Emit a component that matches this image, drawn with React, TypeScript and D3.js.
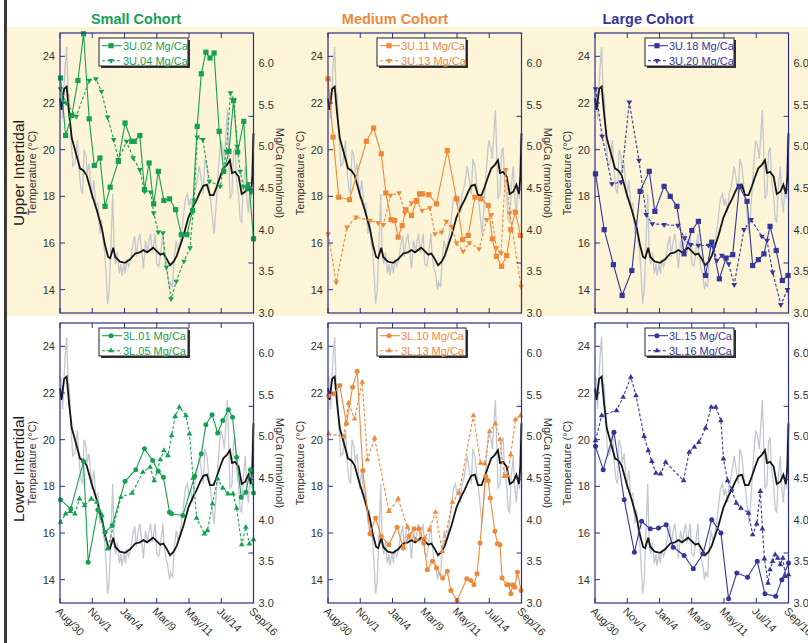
import React from 'react';
import * as d3 from 'd3';

const FONT = '"Liberation Sans", Arial, Helvetica, sans-serif';
const GREEN = '#16a052';
const ORANGE = '#f0883a';
const BLUE = '#35359b';
const FRAME = '#2d2d8a';
const BEIGE = '#fdf5d7';

const cohortTitles = ['Small Cohort', 'Medium Cohort', 'Large Cohort'];
const cohortColors = [GREEN, ORANGE, BLUE];
const rowTitles = ['Upper Intertidal', 'Lower Intertidal'];

// days since Aug/30
const dateTicks = [0, 63, 126, 189, 252, 315, 378];
const dateLabels = ['Aug/30', 'Nov/1', 'Jan/4', 'Mar/9', 'May/11', 'Jul/14', 'Sep/16'];
const tempTicks = [14, 16, 18, 20, 22, 24];
const mgTicks = [3.0, 3.5, 4.0, 4.5, 5.0, 5.5, 6.0];
const mgMinor = [3.6, 4.48, 5.36];

// raw logger temperature (grey)
const rawDays = [0, 2, 5, 10, 13, 16, 18, 21, 25, 29, 34, 38, 41, 44, 47, 51, 53, 57, 62, 66, 70, 74, 78, 81, 85, 87, 90, 93, 96, 99, 103, 106, 109, 112, 116, 119, 121, 125, 128, 130, 134, 138, 142, 146, 149, 152, 156, 160, 163, 167, 171, 174, 177, 180, 184, 186, 189, 193, 197, 201, 203, 207, 210, 214, 216, 220, 223, 227, 231, 235, 239, 242, 245, 249, 252, 255, 259, 262, 266, 270, 272, 276, 280, 283, 287, 291, 295, 298, 301, 305, 308, 312, 314, 318, 321, 325, 327, 330, 332, 336, 339, 342, 345, 349, 352, 355, 358, 362, 365, 368, 371, 374, 376, 378];
const rawTemp = [22.5, 22.7, 21.3, 23.6, 24.4, 22.3, 22.4, 20.7, 19.3, 19.4, 20.4, 18.9, 18.3, 18.1, 20.0, 19.7, 19.0, 19.4, 17.9, 18.7, 17.6, 17.7, 16.4, 17.0, 15.9, 15.7, 14.7, 13.4, 13.9, 15.6, 18.1, 15.4, 15.1, 15.6, 14.7, 15.1, 14.6, 15.1, 14.7, 15.3, 15.0, 15.3, 15.9, 16.3, 15.4, 16.0, 16.4, 15.6, 14.9, 16.1, 15.6, 16.1, 16.4, 15.6, 16.1, 16.4, 15.1, 15.0, 15.6, 16.4, 15.6, 14.9, 14.7, 14.0, 14.3, 14.1, 15.3, 16.1, 15.6, 16.1, 16.7, 17.3, 17.9, 18.1, 17.6, 17.9, 17.3, 18.1, 18.4, 19.0, 19.3, 18.7, 18.1, 19.6, 19.3, 18.4, 17.7, 17.0, 16.4, 17.6, 18.7, 19.9, 20.4, 20.1, 19.6, 21.0, 21.7, 19.6, 17.9, 18.1, 19.9, 20.1, 18.7, 18.0, 17.0, 16.9, 18.4, 19.3, 17.9, 17.3, 18.4, 17.9, 20.4, 20.7];

// smoothed temperature (black)
const smoothDays = [0, 3, 8, 13, 18, 23, 33, 39, 46, 52, 62, 72, 82, 88, 94, 98, 104, 108, 117, 127, 137, 147, 156, 163, 170, 182, 189, 196, 202, 209, 215, 222, 228, 235, 241, 251, 261, 267, 274, 280, 287, 293, 300, 306, 313, 319, 326, 332, 336, 342, 349, 355, 362, 368, 373, 376, 378];
const smoothTemp = [22.2, 21.7, 22.6, 22.7, 21.5, 20.5, 19.7, 19.2, 19.1, 18.9, 18.1, 17.4, 16.6, 15.9, 15.4, 15.35, 15.8, 15.4, 15.2, 15.15, 15.3, 15.55, 15.6, 15.7, 15.6, 15.8, 15.65, 15.5, 15.55, 15.3, 15.05, 15.2, 15.45, 15.9, 16.3, 17.1, 17.6, 17.85, 18.2, 18.45, 18.5, 18.05, 18.05, 18.4, 18.85, 19.2, 19.35, 19.55, 19.0, 19.05, 18.85, 18.1, 18.2, 18.5, 18.1, 18.9, 20.7];

// Mg/Ca series: [day, mmol/mol]
const mg3U02 = [[1, 5.82], [11, 5.13], [23, 5.37], [35, 5.79], [46, 6.35], [57, 5.33], [67, 4.77], [78, 4.86], [88, 4.28], [98, 4.51], [114, 4.82], [127, 5.28], [140, 5.06], [145, 5.06], [156, 5.13], [165, 4.48], [174, 4.8], [183, 4.31], [192, 4.7], [203, 4.35], [214, 4.37], [226, 4.24], [237, 3.94], [248, 3.94], [259, 4.23], [268, 5.24], [276, 5.87], [285, 6.13], [293, 6.06], [301, 6.12], [311, 5.18], [320, 4.7], [330, 4.94], [339, 5.55], [347, 4.93], [359, 5.3], [366, 4.5], [370, 4.49], [378, 3.89]];
const mg3U04 = [[1, 5.69], [12, 5.52], [32, 5.36], [57, 5.79], [70, 5.81], [81, 5.66], [93, 5.35], [105, 5.08], [114, 4.84], [130, 5.06], [143, 4.86], [156, 4.72], [165, 4.46], [177, 4.45], [183, 4.2], [192, 3.97], [201, 3.96], [208, 3.55], [217, 3.17], [227, 3.38], [242, 3.62], [254, 3.78], [262, 4.35], [268, 5.11], [279, 5.08], [292, 4.58], [313, 4.52], [325, 4.94], [333, 5.64], [340, 5.55], [346, 5.0], [352, 4.7], [358, 4.52], [368, 4.55], [374, 4.45]];
const mg3U11 = [[0, 5.81], [10, 5.11], [21, 4.39], [42, 4.36], [75, 5.06], [89, 5.22], [104, 4.91], [113, 4.44], [123, 4.12], [130, 4.11], [137, 3.91], [145, 4.05], [152, 4.24], [163, 4.17], [173, 4.34], [179, 4.43], [184, 4.43], [197, 4.42], [212, 4.31], [233, 4.95], [251, 4.37], [263, 3.88], [274, 3.93], [287, 4.39], [299, 4.37], [313, 4.29], [321, 3.89], [329, 3.68], [339, 3.56], [349, 3.69], [357, 4.0], [366, 4.21], [376, 3.93]];
const mg3U13 = [[0, 3.95], [16, 3.37], [37, 4.03], [55, 4.15], [82, 4.11], [98, 4.08], [108, 4.06], [122, 4.41], [139, 4.44], [150, 4.2], [163, 4.32], [172, 4.36], [184, 4.23], [199, 4.26], [209, 3.95], [222, 3.97], [231, 4.1], [241, 4.04], [251, 3.84], [264, 3.74], [276, 3.84], [295, 3.77], [310, 4.12], [319, 4.18], [329, 3.78], [338, 3.72], [347, 4.72], [355, 4.2], [377, 3.32]];
const mg3U18 = [[1, 4.67], [18, 4.0], [36, 3.58], [53, 3.21], [72, 3.51], [88, 4.46], [106, 4.7], [117, 4.22], [135, 4.52], [147, 4.4], [160, 4.28], [174, 3.71], [189, 3.99], [202, 4.1], [216, 3.45], [228, 3.85], [243, 3.41], [256, 3.66], [269, 3.7], [282, 4.52], [297, 4.34], [308, 3.57], [319, 3.64], [330, 3.71], [342, 4.04], [354, 3.75], [366, 3.39], [377, 3.45]];
const mg3U20 = [[1, 5.69], [14, 5.12], [33, 4.55], [51, 4.57], [67, 5.53], [86, 4.83], [100, 4.18], [112, 4.07], [135, 4.06], [162, 4.05], [175, 3.9], [187, 3.82], [202, 3.81], [222, 3.81], [232, 3.79], [238, 3.63], [248, 3.69], [261, 3.59], [272, 3.34], [291, 4.0], [305, 4.12], [326, 3.92], [336, 3.87], [347, 3.49], [363, 3.1], [376, 3.28]];
const mg3L01 = [[1, 4.24], [21, 4.13], [46, 4.7], [55, 3.49], [74, 4.12], [88, 3.85], [102, 3.93], [127, 4.46], [148, 4.6], [165, 4.85], [181, 4.71], [192, 4.58], [202, 4.51], [214, 4.09], [218, 4.07], [240, 4.05], [263, 4.52], [276, 4.79], [285, 5.14], [297, 5.26], [308, 5.04], [318, 5.19], [329, 5.32], [337, 5.23], [345, 4.75], [354, 4.27], [363, 4.33], [372, 4.6], [378, 4.32]];
const mg3L05 = [[1, 3.97], [11, 4.07], [20, 4.1], [29, 4.07], [38, 4.25], [48, 4.17], [61, 4.25], [72, 4.21], [82, 4.05], [93, 3.65], [119, 4.27], [141, 4.32], [162, 4.57], [176, 4.63], [184, 4.47], [196, 4.72], [203, 4.83], [211, 4.77], [218, 5.01], [225, 5.24], [233, 5.35], [246, 5.25], [253, 5.03], [260, 4.5], [267, 4.02], [282, 3.83], [288, 3.87], [298, 4.19], [308, 4.49], [318, 4.38], [328, 4.31], [338, 4.31], [345, 4.14], [355, 3.7], [363, 3.91], [370, 3.71], [378, 3.76]];
const mg3L10 = [[1, 5.49], [11, 5.51], [23, 5.61], [36, 5.15], [48, 5.59], [57, 5.78], [68, 4.59], [82, 3.83], [93, 4.02], [104, 3.8], [119, 3.7], [135, 3.91], [147, 3.66], [158, 3.8], [168, 3.89], [178, 3.89], [187, 3.72], [194, 3.4], [204, 3.5], [212, 3.42], [224, 3.3], [233, 3.38], [240, 3.15], [252, 3.03], [271, 3.29], [279, 3.27], [285, 3.22], [291, 3.35], [297, 3.72], [308, 4.52], [313, 4.47], [317, 4.26], [326, 3.86], [331, 3.71], [336, 3.7], [340, 3.3], [349, 3.22], [353, 3.22], [357, 3.11], [361, 3.22], [365, 3.19], [370, 3.37], [377, 3.15]];
const mg3L13 = [[1, 5.03], [31, 5.0], [40, 5.4], [52, 5.21], [67, 5.65], [77, 4.72], [91, 4.98], [119, 4.1], [137, 4.25], [155, 3.91], [171, 3.76], [189, 3.78], [198, 3.88], [210, 4.09], [223, 3.62], [243, 4.21], [256, 4.32], [284, 5.25], [298, 4.68], [306, 4.67], [316, 5.06], [327, 5.15], [336, 4.96], [344, 4.52], [350, 4.53], [357, 4.78], [366, 5.2], [376, 5.25]];
const mg3L15 = [[1, 4.88], [16, 4.6], [37, 5.05], [57, 4.24], [77, 3.61], [91, 3.98], [108, 3.89], [124, 3.9], [139, 3.94], [153, 3.67], [174, 3.57], [192, 3.41], [211, 3.59], [228, 4.0], [246, 3.84], [261, 3.05], [277, 3.36], [298, 3.31], [317, 3.5], [332, 3.11], [353, 3.08], [365, 3.28], [378, 3.48]];
const mg3L16 = [[1, 4.95], [13, 5.25], [42, 5.31], [55, 5.47], [70, 5.71], [80, 5.49], [96, 5.0], [104, 4.83], [111, 4.7], [119, 4.56], [128, 4.55], [138, 4.69], [173, 4.47], [184, 4.81], [194, 4.87], [203, 4.93], [216, 5.1], [227, 5.35], [236, 5.35], [246, 5.19], [251, 4.73], [259, 4.47], [267, 4.36], [276, 4.2], [285, 4.14], [300, 4.08], [308, 3.82], [316, 3.95], [323, 4.34], [327, 3.89], [331, 3.53], [338, 3.24], [342, 3.4], [347, 3.5], [352, 3.58], [357, 3.54], [362, 3.46], [367, 3.54], [372, 3.32], [378, 3.34]];

const panels = [
  { row: 0, col: 0, solid: ['3U.02 Mg/Ca', mg3U02, 'square'], dashed: ['3U.04 Mg/Ca', mg3U04, 'down'] },
  { row: 0, col: 1, solid: ['3U.11 Mg/Ca', mg3U11, 'square'], dashed: ['3U.13 Mg/Ca', mg3U13, 'down'] },
  { row: 0, col: 2, solid: ['3U.18 Mg/Ca', mg3U18, 'square'], dashed: ['3U.20 Mg/Ca', mg3U20, 'down'] },
  { row: 1, col: 0, solid: ['3L.01 Mg/Ca', mg3L01, 'circle'], dashed: ['3L.05 Mg/Ca', mg3L05, 'up'] },
  { row: 1, col: 1, solid: ['3L.10 Mg/Ca', mg3L10, 'circle'], dashed: ['3L.13 Mg/Ca', mg3L13, 'up'] },
  { row: 1, col: 2, solid: ['3L.15 Mg/Ca', mg3L15, 'circle'], dashed: ['3L.16 Mg/Ca', mg3L16, 'up'] },
];

// layout
const panelX = [60, 328, 595];
const rowY = [33, 323];
const PW = 193.5;
const PH = 280;
const legendDx = [39, 49, 50];
const titleX = [136, 395, 648];

const triPath = d3.symbol(d3.symbolTriangle, 14)() || '';

function Marker({ kind, x, y, color }: { kind: string; x: number; y: number; color: string }) {
  if (kind === 'square') return <rect x={x - 2.6} y={y - 2.6} width={5.2} height={5.2} fill={color} />;
  if (kind === 'circle') return <circle cx={x} cy={y} r={2.5} fill={color} />;
  return <path d={triPath} fill={color} transform={`translate(${x},${y}) rotate(${kind === 'down' ? 180 : 0})`} />;
}

function Panel({ p }: { p: any }) {
  const left = panelX[p.col];
  const top = rowY[p.row];
  const color = cohortColors[p.col];
  const x = d3.scaleLinear().domain([0, 378]).range([left, left + PW]);
  const yT = d3.scaleLinear().domain([13, 25]).range([top + PH, top]);
  const yM = d3.scaleLinear().domain([3, 6.36]).range([top + PH, top]);

  const tLine = d3.line<[number, number]>().x(d => x(d[0])).y(d => yT(d[1]));
  const mLine = d3.line<number[]>().x(d => x(d[0])).y(d => yM(d[1]));
  const raw = rawDays.map((d, i) => [d, rawTemp[i]] as [number, number]);
  const smooth = smoothDays.map((d, i) => [d, smoothTemp[i]] as [number, number]);

  const lx = left + legendDx[p.col];
  const ly = top + 5;
  const series = [
    { s: p.solid, dash: undefined },
    { s: p.dashed, dash: '3,2' },
  ];

  return (
    <g>
      <path d={tLine(raw) || ''} fill="none" stroke="#c3c7cf" strokeWidth={1.3} />
      <path d={tLine(smooth) || ''} fill="none" stroke="#151515" strokeWidth={1.8} />
      {series.map(({ s, dash }, k) => (
        <g key={k}>
          <path d={mLine(s[1]) || ''} fill="none" stroke={color} strokeWidth={1.1} strokeDasharray={dash} />
          {s[1].map((d: number[], i: number) => (
            <Marker key={i} kind={s[2]} x={x(d[0])} y={yM(d[1])} color={color} />
          ))}
        </g>
      ))}

      {/* frame and ticks */}
      <rect x={left} y={top} width={PW} height={PH} fill="none" stroke={FRAME} strokeWidth={1.2} />
      {dateTicks.map(d => (
        <g key={d}>
          <line x1={x(d)} x2={x(d)} y1={top} y2={top + 5} stroke={FRAME} strokeWidth={1} />
          <line x1={x(d)} x2={x(d)} y1={top + PH} y2={top + PH - 5} stroke={FRAME} strokeWidth={1} />
        </g>
      ))}
      {tempTicks.map(t => (
        <g key={t}>
          <line x1={left} x2={left + 5} y1={yT(t)} y2={yT(t)} stroke={FRAME} strokeWidth={1} />
          <text x={left - 5} y={yT(t)} textAnchor="end" dominantBaseline="central" fontSize={11} fill="#333">{t}</text>
        </g>
      ))}
      {mgMinor.map(v => (
        <line key={v} x1={left + PW} x2={left + PW - 5} y1={yM(v)} y2={yM(v)} stroke={FRAME} strokeWidth={1} />
      ))}
      {mgTicks.map(v => (
        <text key={v} x={left + PW + 5} y={yM(v)} dominantBaseline="central" fontSize={11} fill="#333">{v.toFixed(1)}</text>
      ))}

      {/* axis titles */}
      <text transform={`translate(${left - 28},${top + PH / 2}) rotate(-90)`} textAnchor="middle" dominantBaseline="central" fontSize={11} fill="#333">Temperature (°C)</text>
      {p.col < 2 && (
        <text transform={`translate(${left + PW + 26},${top + PH / 2}) rotate(90)`} textAnchor="middle" dominantBaseline="central" fontSize={11} fill="#333">Mg/Ca (mmol/mol)</text>
      )}

      {/* date labels */}
      {p.row === 1 && dateTicks.map((d, i) => (
        <text key={d} transform={`translate(${x(d) - 5},${top + PH + 9}) rotate(45)`} fontSize={11} fill="#333">{dateLabels[i]}</text>
      ))}

      {/* legend */}
      <rect x={lx + 2} y={ly + 2} width={89} height={28} fill="#333" />
      <rect x={lx} y={ly} width={89} height={28} fill="#fff" stroke="#222" strokeWidth={1} />
      {series.map(({ s, dash }, k) => {
        const yy = ly + 7.7 + k * 15;
        return (
          <g key={k}>
            <line x1={lx + 3} x2={lx + 23} y1={yy} y2={yy} stroke={color} strokeWidth={1.1} strokeDasharray={dash} />
            <Marker kind={s[2]} x={lx + 12} y={yy} color={color} />
            <text x={lx + 24} y={yy} dominantBaseline="central" fontSize={11} fill={color}>{s[0]}</text>
          </g>
        );
      })}
    </g>
  );
}

export default function App() {
  return (
    <svg width={808} height={643} style={{ position: 'absolute', left: 0, top: 0, background: '#fff' }} fontFamily={FONT}>
      <rect x={0} y={0} width={808} height={643} fill="#fff" />
      <rect x={7} y={27} width={801} height={289} fill={BEIGE} />
      <rect x={4} y={0} width={3} height={643} fill="#3a3a3a" />
      {cohortTitles.map((t, i) => (
        <text key={t} x={titleX[i]} y={24} textAnchor="middle" fontSize={14.5} fontWeight="bold" fill={cohortColors[i]}>{t}</text>
      ))}
      {rowTitles.map((t, i) => (
        <text key={t} transform={`translate(18,${rowY[i] + PH / 2 + (i === 1 ? 6 : 0)}) rotate(-90)`} textAnchor="middle" dominantBaseline="central" fontSize={15.5} fill="#222">{t}</text>
      ))}
      {panels.map((p, i) => <Panel key={i} p={p} />)}
    </svg>
  );
}
